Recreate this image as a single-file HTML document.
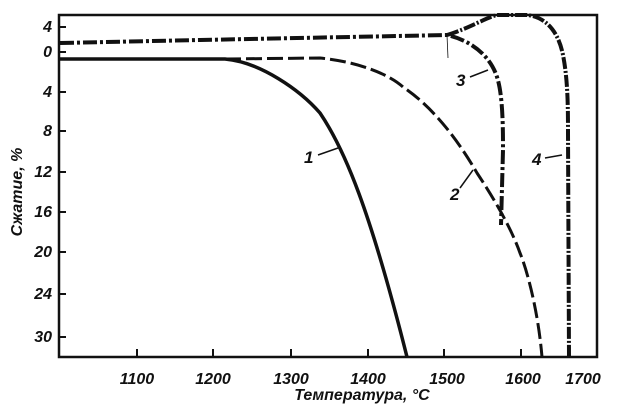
<!DOCTYPE html><html><head><style>body{margin:0;background:#fff}svg{display:block}text{font-family:"Liberation Sans",sans-serif;font-weight:bold;font-style:italic;fill:#111}</style></head><body>
<svg width="627" height="409" viewBox="0 0 627 409">
<rect x="59" y="15" width="538" height="342" fill="none" stroke="#111" stroke-width="2.5"/>
<g stroke="#111" stroke-width="2">
<line x1="59" y1="27" x2="66" y2="27"/><line x1="59" y1="52" x2="66" y2="52"/><line x1="59" y1="92" x2="66" y2="92"/><line x1="59" y1="131" x2="66" y2="131"/><line x1="59" y1="172" x2="66" y2="172"/><line x1="59" y1="212" x2="66" y2="212"/><line x1="59" y1="252" x2="66" y2="252"/><line x1="59" y1="294" x2="66" y2="294"/><line x1="59" y1="337" x2="66" y2="337"/>
<line x1="137" y1="357" x2="137" y2="349"/><line x1="213" y1="357" x2="213" y2="349"/><line x1="291" y1="357" x2="291" y2="349"/><line x1="368" y1="357" x2="368" y2="349"/><line x1="444" y1="357" x2="444" y2="349"/><line x1="521" y1="357" x2="521" y2="349"/>
</g>
<g font-size="16" text-anchor="end">
<text x="52" y="32">4</text><text x="52" y="57">0</text><text x="52" y="97">4</text><text x="52" y="136">8</text><text x="52" y="177">12</text><text x="52" y="217">16</text><text x="52" y="257">20</text><text x="52" y="299">24</text><text x="52" y="342">30</text>
</g>
<g font-size="16" text-anchor="middle">
<text x="137" y="384">1100</text><text x="213" y="384">1200</text><text x="291" y="384">1300</text><text x="368" y="384">1400</text><text x="447" y="384">1500</text><text x="523" y="384">1600</text><text x="583" y="384">1700</text>
</g>
<text x="362" y="400" font-size="16" text-anchor="middle">Температура, °С</text>
<text transform="translate(22,192) rotate(-90)" font-size="16" text-anchor="middle">Сжатие, %</text>
<g fill="none" stroke="#111" stroke-linecap="butt">
<path d="M60,59 L225,59 C260,62 300,90 320,113 C345,150 370,210 407,357" stroke-width="3.5"/>
<path d="M225,59 L320,58 C360,62 390,75 403,87 C430,105 455,135 477,173 C495,200 512,230 520,253 C527,270 538,310 542,357" stroke-width="3" stroke-dasharray="16,5"/>
<path d="M60,43 L200,40 L447,35 C470,40 490,55 497,77 C503,95 503,130 503,150 L501,225" stroke-width="4" stroke-dasharray="14,3,3,3"/>
<path d="M447,35 C470,28 485,18 497,15 L527,15 C545,17 558,30 563,55 C568,80 568,110 568,133 L569,357" stroke-width="4" stroke-dasharray="12,2,2,2"/>
<path d="M447,35 L448,58" stroke-width="0.8"/>
<g stroke-width="1.5"><line x1="318" y1="155" x2="338" y2="148"/><line x1="460" y1="188" x2="473" y2="170"/><line x1="470" y1="77" x2="488" y2="70"/><line x1="545" y1="158" x2="562" y2="155"/></g>
</g>
<g font-size="17"><text x="304" y="163">1</text><text x="450" y="200">2</text><text x="456" y="86">3</text><text x="532" y="165">4</text></g>
</svg></body></html>
